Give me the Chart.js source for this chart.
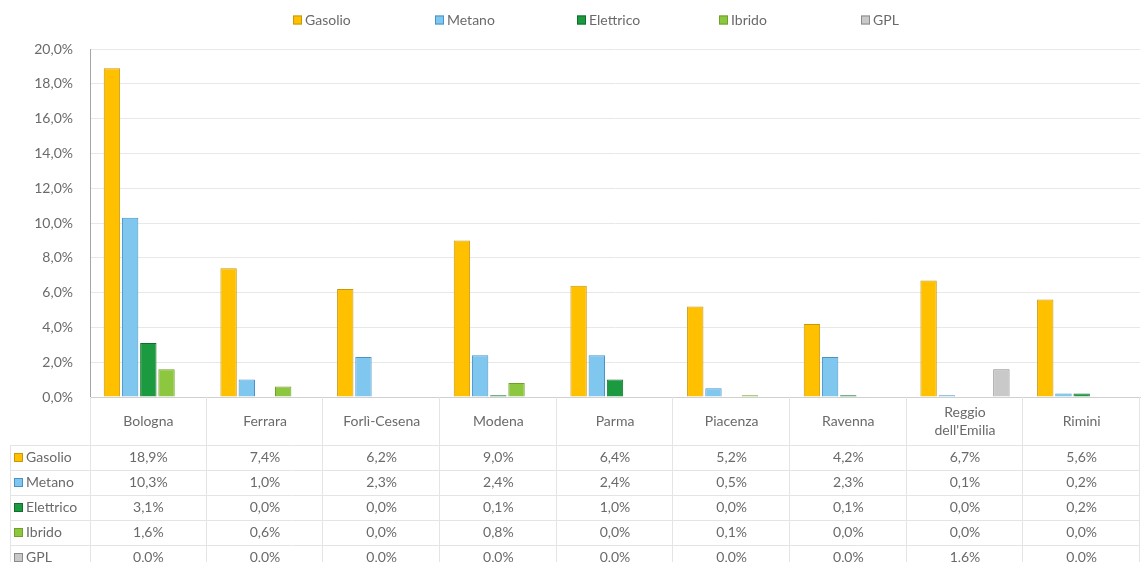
<!DOCTYPE html>
<html>
<head>
<meta charset="utf-8">
<script src="https://cdn.jsdelivr.net/npm/chart.js@4.4.1/dist/chart.umd.min.js"></script>
<style>
  html, body { margin: 0; padding: 0; background: #fff; }
  #wrap { width: 1143px; height: 562px; }
</style>
</head>
<body>
<div id="wrap"><canvas id="chartAuto"></canvas></div>
<script>
  const province = ['Bologna', 'Ferrara', 'Forlì-Cesena', 'Modena', 'Parma', 'Piacenza', 'Ravenna', ['Reggio', "dell'Emilia"], 'Rimini'];
  const gasolio   = [18.9, 7.4, 6.2, 9.0, 6.4, 5.2, 4.2, 6.7, 5.6];
  const metano    = [10.3, 1.0, 2.3, 2.4, 2.4, 0.5, 2.3, 0.1, 0.2];
  const elettrico = [3.1, 0.0, 0.0, 0.1, 1.0, 0.0, 0.1, 0.0, 0.2];
  const ibrido    = [1.6, 0.6, 0.0, 0.8, 0.0, 0.1, 0.0, 0.0, 0.0];
  const gpl       = [0.0, 0.0, 0.0, 0.0, 0.0, 0.0, 0.0, 1.6, 0.0];
  const yTicks    = [0, 2, 4, 6, 8, 10, 12, 14, 16, 18, 20];

  const FONT = 'Lato, "Open Sans", sans-serif';
  const TXT  = '#6a6a6a';
  const LINE = '#e4e4e4';
  const fmt  = v => v.toFixed(1).replace('.', ',') + '%';

  const serie = (label, data, bg, bd) => ({
    label, data,
    backgroundColor: bg,
    borderColor: bd,
    borderWidth: 1,
    categoryPercentage: 0.78,
    barPercentage: 0.9,
  });

  const key = (ctx, ds, x, cy) => {
    ctx.fillStyle = ds.backgroundColor;
    ctx.fillRect(x, cy - 4.5, 9, 9);
    ctx.strokeStyle = ds.borderColor;
    ctx.strokeRect(x + 0.5, cy - 4, 8, 8);
  };

  /* legenda in alto, voci a passo fisso come in Excel */
  const excelLegend = {
    id: 'excelLegend',
    afterDraw(chart) {
      const { ctx, chartArea: a } = chart;
      const step = 142;
      const x0 = (a.left + a.right) / 2 - 322;
      ctx.save();
      ctx.font = '14px ' + FONT;
      ctx.textBaseline = 'middle';
      ctx.textAlign = 'left';
      chart.data.datasets.forEach((ds, i) => {
        const x = x0 + i * step;
        key(ctx, ds, x, 20);
        ctx.fillStyle = TXT;
        ctx.fillText(ds.label, x + 12, 20);
      });
      ctx.restore();
    },
  };

  /* tabella dati sotto il grafico */
  const dataTable = {
    id: 'dataTable',
    afterDraw(chart) {
      const { ctx, chartArea: a, scales: { x } } = chart;
      const half = (x.getPixelForValue(1) - x.getPixelForValue(0)) / 2;
      const headBottom = a.bottom + 48;
      const rowH = 25;
      const bottom = chart.height;
      ctx.save();
      ctx.strokeStyle = LINE;
      ctx.lineWidth = 1;
      ctx.beginPath();
      ctx.moveTo(a.left + 0.5, a.bottom); ctx.lineTo(a.left + 0.5, bottom);
      ctx.moveTo(10.5, headBottom); ctx.lineTo(10.5, bottom);
      province.forEach((_, i) => {
        const xr = Math.round(x.getPixelForValue(i) + half) - 0.5;
        ctx.moveTo(xr, a.bottom); ctx.lineTo(xr, bottom);
      });
      chart.data.datasets.forEach((_, r) => {
        const y = Math.round(headBottom + r * rowH) + 0.5;
        ctx.moveTo(10, y); ctx.lineTo(a.right, y);
      });
      ctx.stroke();

      ctx.font = '14px ' + FONT;
      ctx.fillStyle = TXT;
      ctx.textAlign = 'center';
      ctx.textBaseline = 'middle';
      province.forEach((p, i) => {
        const cx = x.getPixelForValue(i);
        const cy = (a.bottom + headBottom) / 2;
        const lines = Array.isArray(p) ? p : [p];
        lines.forEach((t, k) => ctx.fillText(t, cx, cy + (k - (lines.length - 1) / 2) * 18));
      });
      chart.data.datasets.forEach((ds, r) => {
        const cy = headBottom + r * rowH + rowH / 2;
        key(ctx, ds, 14, cy);
        ctx.fillStyle = TXT;
        ctx.textAlign = 'left';
        ctx.fillText(ds.label, 26, cy);
        ctx.textAlign = 'center';
        ds.data.forEach((v, i) => ctx.fillText(fmt(v), x.getPixelForValue(i), cy));
      });
      ctx.restore();
    },
  };

  new Chart(document.getElementById('chartAuto'), {
    type: 'bar',
    data: {
      labels: province,
      datasets: [
        serie('Gasolio',   gasolio,   '#FFC000', '#C9980A'),
        serie('Metano',    metano,    '#7FC7EF', '#4A93C6'),
        serie('Elettrico', elettrico, '#1B9A40', '#0F6E2C'),
        serie('Ibrido',    ibrido,    '#8DC63F', '#6FA12A'),
        serie('GPL',       gpl,       '#C9C9C9', '#8A8A8A'),
      ],
    },
    options: {
      responsive: true,
      maintainAspectRatio: false,
      animation: false,
      layout: { padding: { top: 49, right: 3, left: 0, bottom: 0 } },
      plugins: {
        legend: { display: false },
        tooltip: { enabled: false },
      },
      scales: {
        x: {
          grid: { display: false },
          border: { display: true, color: '#d0d0d0' },
          ticks: { display: false },
          afterFit: s => { s.height = 165; },
        },
        y: {
          min: 0, max: 20,
          afterBuildTicks: s => { s.ticks = yTicks.map(v => ({ value: v })); },
          grid: { color: '#e8e8e8', drawTicks: false },
          border: { display: true, color: '#a6a6a6' },
          ticks: {
            padding: 17,
            color: TXT,
            font: { family: FONT, size: 14 },
            callback: v => fmt(v),
          },
          afterFit: s => { s.width = 90; },
        },
      },
    },
    plugins: [dataTable, excelLegend],
  });
</script>
</body>
</html>
